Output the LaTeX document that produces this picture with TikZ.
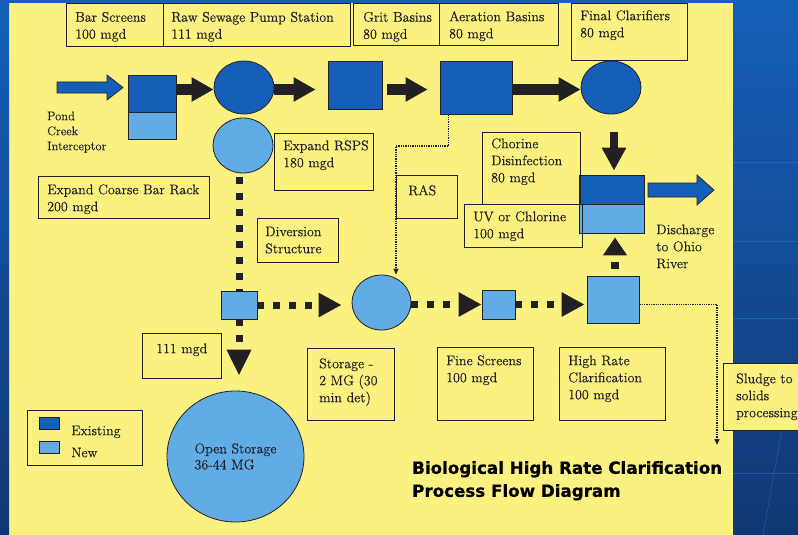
\documentclass[tikz,border=0pt]{standalone}
\usepackage{fontspec}
\newfontfamily\titlefont{DejaVu Sans}[BoldFeatures={FakeBold=0.6}]
\newfontfamily\bodyfont{Latin Modern Roman}[FakeBold=0.35]
\usetikzlibrary{shapes.geometric,arrows.meta,calc,fit}
\definecolor{bg}{RGB}{251,241,128}
\definecolor{ink}{RGB}{35,32,35}
\definecolor{exist}{RGB}{22,95,185}
\definecolor{newc}{RGB}{98,172,230}
\definecolor{frameT}{RGB}{22,96,185}
\definecolor{frameB}{RGB}{16,55,115}
\definecolor{frameL}{RGB}{45,120,200}
\begin{document}
\begin{tikzpicture}[x=1pt,y=-1pt,
  box/.style={draw=ink, line width=0.9pt, inner sep=0pt, rectangle},
  sqE/.style={draw=ink, line width=0.8pt, fill=exist, inner sep=0pt, rectangle},
  sqN/.style={draw=ink, line width=0.8pt, fill=newc, inner sep=0pt, rectangle},
  elE/.style={ellipse, draw=ink, line width=0.8pt, fill=exist, inner sep=0pt},
  elN/.style={ellipse, draw=ink, line width=0.8pt, fill=newc, inner sep=0pt},
  lbl/.style={font=\bodyfont\fontsize{14}{17}\selectfont, text=ink, align=left, inner sep=0pt, anchor=north west},
  smalltxt/.style={font=\bodyfont\fontsize{12.5}{15}\selectfont, text=ink, align=left, inner sep=0pt, anchor=north west},
  flowarr/.style={draw=ink, line width=10pt, -{Triangle[length=22pt,width=23pt]}},
  dotarr/.style={draw=ink, line width=7pt, dash pattern=on 7pt off 9pt, -{Triangle[length=23pt,width=23pt]}},
  finearr/.style={draw=ink, line width=1.3pt, dash pattern=on 1.3pt off 1pt, -{Triangle[length=6pt,width=5pt]}},
  bigarr/.style={fill=exist, draw=ink, line width=0.7pt, line join=miter},
]
\useasboundingbox (0,0) rectangle (798,535);
\clip (0,0) rectangle (798,535);
% background
\fill[bg] (0,0) rectangle (798,535);
\shade[top color=frameT, bottom color=frameB] (733,0) rectangle (798,535);
\foreach \yy in {162,241,318,473} \draw[frameL, opacity=0.5, line width=0.8pt] (733,\yy) -- (798,\yy);
\draw[frameL, opacity=0.4, line width=0.8pt] (783,423) -- (763,535);
\shade[top color=frameT, bottom color=frameB] (0,0) rectangle (9,535);
\fill[frameT] (0,0) rectangle (798,3);

% process units
\node[sqE, fit={(128,75) (176,112)}] (barE) {};
\node[sqN, fit={(128,112) (176,139)}] (barN) {};
\node[elE, minimum width=60pt, minimum height=53pt] (pump) at (244,87.5) {};
\node[elN, minimum width=60pt, minimum height=55pt] (rsps) at (243,145.5) {};
\node[sqE, fit={(328,61) (382,109)}] (grit) {};
\node[sqE, fit={(440,61) (512,114)}] (aer) {};
\node[elE, minimum width=60pt, minimum height=53pt] (final) at (611,87.5) {};
\node[sqE, fit={(579,175) (644,204)}] (chlE) {};
\node[sqN, fit={(579,204) (644,233)}] (chlN) {};
\node[sqN, fit={(221,291) (257,319)}] (div) {};
\node[elN, minimum width=59pt, minimum height=55pt] (store) at (381.5,302.5) {};
\node[sqN, fit={(482,290) (515,319)}] (fscr) {};
\node[sqN, fit={(587,276) (639,323)}] (hrc) {};
\node[elN, minimum width=137pt, minimum height=131pt, align=left, text=ink, font=\bodyfont\fontsize{14}{16}\selectfont] (open) at (235.5,456.5) {Open Storage\\36-44 MG};

% main flow arrows
\coordinate (row) at (0,89.5);
\draw[flowarr] (barE.east |- row) -- (pump.west |- row);
\draw[flowarr, shorten >=12pt] (pump.east |- row) -- (grit.west |- row);
\draw[flowarr, shorten <=5pt, shorten >=12pt] (grit.east |- row) -- (aer.west |- row);
\draw[flowarr] (aer.east |- row) -- (final.west |- row);
\draw[draw=ink, line width=8pt, -{Triangle[length=23pt,width=23pt]}, shorten <=18pt, shorten >=4pt]
  ([xshift=3pt]final.south) -- ([xshift=3pt]final.south |- chlE.north);
\draw[draw=ink, line width=8pt, dash pattern=on 7pt off 8pt, dash phase=8pt, -{Triangle[length=18pt,width=23pt]}, shorten >=4pt]
  ([xshift=2pt]hrc.north) -- ([xshift=2pt]hrc.north |- chlN.south);

% wet weather (dotted) path
\draw[dotarr, -, dash phase=12pt] (div.north |- rsps.south) -- (div.north);
\draw[dotarr, -{Triangle[length=26pt,width=23pt]}, shorten >=15pt] (div.south) -- (div.south |- open.north);
\draw[dotarr, shorten >=10pt] (div.east) -- (div.east -| store.west);
\draw[dotarr] (store.east |- fscr.west) -- (fscr.west);
\draw[dotarr, shorten >=2pt] (fscr.east) -- (fscr.east -| hrc.west);

% fine dotted lines
\coordinate (rasK) at (396,146);
\draw[finearr] ([xshift=9pt]aer.south west) |- (rasK) -- (rasK |- store.north);
\coordinate (slK) at (717,445);
\draw[finearr] (hrc.east |- fscr.east) -| (slK);

% influent and discharge arrows
\coordinate (pondTail) at (57,87.5);
\filldraw[bigarr] (pondTail) ++(0,-5.5) -- ++(50,0) -- ++(0,-7) -- ++(16,12.5) -- ++(-16,12.5) -- ++(0,-7) -- ++(-50,0) -- cycle;
\coordinate (disTail) at (648,190);
\filldraw[bigarr] (disTail) ++(0,-7) -- ++(49,0) -- ++(0,-8) -- ++(17,15) -- ++(-17,15) -- ++(0,-8) -- ++(-49,0) -- cycle;

% label boxes
\node[box, fit={(66,3) (163,46)}] (bsB) {};
\node[box, fit={(163,3) (350,46)}] (rsB) {};
\node[box, fit={(353,3) (439,45)}] (grB) {};
\node[box, fit={(439,3) (558,45)}] (aeB) {};
\node[box, fit={(571,3) (687,60)}] (fcB) {};
\node[box, fit={(274,133) (373,190)}] (ersB) {};
\node[box, fit={(38,176) (209,218)}] (ecbB) {};
\node[box, fit={(257,218) (338,262)}] (divB) {};
\node[box, fit={(396,175) (457,218)}] (rasB) {};
\node[box, fit={(482,132) (580,204)}] (chdB) {};
\node[box, fit={(464,204) (582,247)}] (uvB) {};
\node[box, fit={(142,333) (221,378)}] (m111B) {};
\node[box, fit={(307,348) (394,420)}] (stoB) {};
\node[box, fit={(437,347) (533,420)}] (fsB) {};
\node[box, fit={(559,347) (665,420)}] (hrcB) {};
\node[box, fill=bg, fit={(723,363) (805,430)}] (slB) {};
\node[box, fit={(27,410) (142,465)}] (legB) {};
\node[sqE, fit={(39,417) (59,429)}] (legE) {};
\node[sqN, fit={(39,441) (59,453)}] (legN) {};

% texts
\node[lbl] (bsT) at (75,9.6) {\strut Bar Screens\\100 mgd};
\node[lbl] (rsT) at (171,9.6) {\strut Raw Sewage Pump Station\\111 mgd};
\node[lbl] (grT) at (363,9.6) {\strut Grit Basins\\80 mgd};
\node[lbl] (aeT) at (449,9.1) {\strut Aeration Basins\\80 mgd};
\node[lbl] (fcT) at (580,8.1) {\strut Final Clarifiers\\80 mgd};
\node[smalltxt] (pondT) at (47,109.5) {\strut Pond\\Creek\\Interceptor};
\node[lbl] (ersT) at (283,138.1) {\strut Expand RSPS\\180 mgd};
\node[lbl] (ecbT) at (47,182.1) {\strut Expand Coarse Bar Rack\\200 mgd};
\node[lbl] (divT) at (265,224.1) {\strut Diversion\\Structure};
\node[lbl] (rasT) at (408,183.1) {\strut RAS};
\node[lbl] (chdT) at (491,136.1) {\strut Chorine\\Disinfection\\80 mgd};
\node[lbl] (uvT) at (473,209.1) {\strut UV or Chlorine\\100 mgd};
\node[lbl] (disT) at (656,222.1) {\strut Discharge\\to Ohio\\River};
\node[lbl] (m111T) at (156,341.1) {\strut 111 mgd};
\node[lbl] (stoT) at (319,356.1) {\strut Storage -\\2 MG (30\\min det)};
\node[lbl] (fsT) at (446,353.1) {\strut Fine Screens\\100 mgd};
\node[lbl] (hrcT) at (568,353.1) {\strut High Rate\\Clarification\\100 mgd};
\node[lbl] (slT) at (736,371.1) {\strut Sludge to\\solids\\processing};
\node[lbl] (exT) at (71,423.1) {\strut Existing};
\node[lbl] (newT) at (71,445.1) {\strut New};
\node[inner sep=0pt, anchor=north west, align=left, text=black, font=\titlefont\bfseries\fontsize{16.7}{23}\selectfont] (ttl) at (412,457.5) {\strut Biological High Rate Clarification\\Process Flow Diagram};
\end{tikzpicture}
\end{document}
